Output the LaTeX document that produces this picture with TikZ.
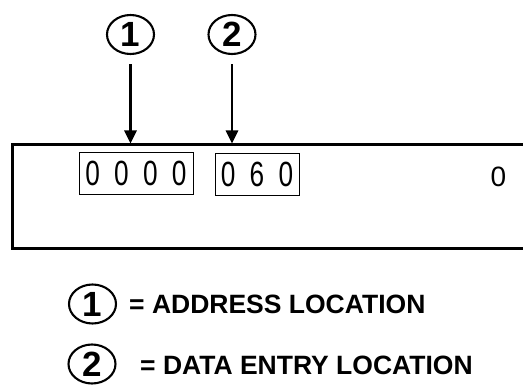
\documentclass[tikz,border=0pt]{standalone}
\usepackage{fontspec}
\usepackage{graphicx}
\setmainfont{Liberation Sans}
\newfontfamily\segfont{Liberation Sans}
\usetikzlibrary{shapes.geometric,arrows.meta}
\tikzset{
  callout/.style={ellipse, draw, line width=2.1pt, minimum width=47pt, minimum height=39pt, inner sep=0pt,
    font=\fontsize{35}{35}\selectfont\bfseries},
  legendtext/.style={anchor=west, inner sep=0pt, font=\fontsize{26.5}{30}\selectfont\bfseries},
  pointer/.style={line width=2.8pt, -{Triangle[length=13pt,width=12pt]}},
  panelbox/.style={draw, line width=3pt, minimum width=528pt, minimum height=104pt, inner sep=0pt},
  readout/.style={draw, line width=0.9pt, minimum height=42pt, inner sep=0pt}
}
\newcommand{\segdigits}[1]{\scalebox{0.75}[1]{\fontsize{35}{35}\segfont #1}}
\begin{document}
\begin{tikzpicture}[x=1pt,y=-1pt]
\useasboundingbox (0,0) rectangle (523,385);
\clip (0,0) rectangle (523,385);
\fill[white] (0,0) rectangle (523,385);
% panel
\node[panelbox] (panel) at (276,197) {};
\node[readout, minimum width=114pt] (addr) at (136,173) {\segdigits{0\kern19pt0\kern19pt0\kern19pt0}};
\node[readout, minimum width=84pt] (data) at (257,174) {\segdigits{0\kern19pt6\kern19pt0}};
\node[inner sep=0pt, font=\fontsize{28}{28}\segfont] (small) at (498.5,177) {0};
% callouts
\node[callout] (c1) at (130.5,34.5) {1};
\node[callout] (c2) at (232,34.5) {2};
\draw[pointer] ([yshift=-9pt]c1.south) -- (c1.south |- panel.north);
\draw[pointer] ([yshift=-9pt]c2.south) -- (c2.south |- panel.north);
% legend
\node[callout] (l1) at (92.5,304) {1};
\node[callout] (l2) at (92,364) {2};
\node[legendtext] (t1) at (129,304) {= ADDRESS LOCATION};
\node[legendtext] (t2) at (140,365) {= DATA ENTRY LOCATION};
\end{tikzpicture}
\end{document}
